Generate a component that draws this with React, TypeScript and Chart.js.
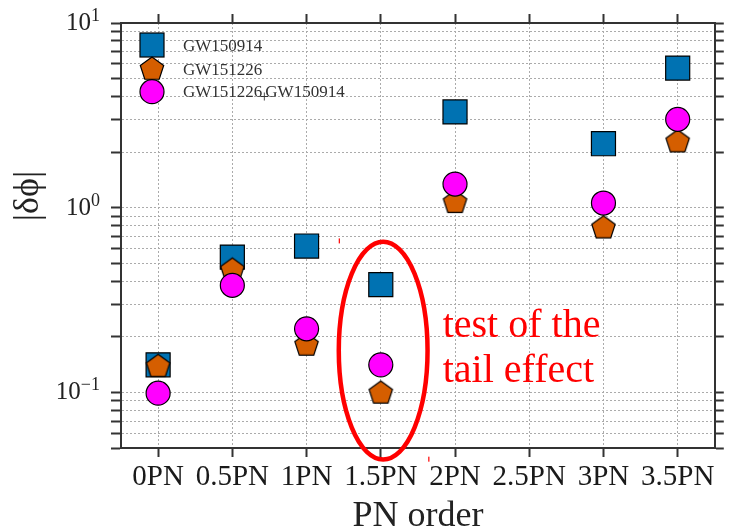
import React, { useEffect, useRef } from 'react';
import { Chart, registerables } from 'chart.js';

Chart.register(...registerables);

// ---- data ----
const categories = ['0PN', '0.5PN', '1PN', '1.5PN', '2PN', '2.5PN', '3PN', '3.5PN'];
const pnOrders = [0, 0.5, 1, 1.5, 2, 2.5, 3, 3.5];
const measuredOrders = [0, 0.5, 1, 1.5, 2, 3, 3.5];
const gw150914 = [0.141, 0.54, 0.62, 0.383, 3.3, 2.22, 5.7];
const gw151226 = [0.138, 0.459, 0.18, 0.099, 1.066, 0.776, 2.27];
const combined = [0.099, 0.38, 0.221, 0.141, 1.343, 1.06, 3.01];
const seriesNames = ['GW150914', 'GW151226', 'GW151226', 'GW150914'];
const yGridValues = [0.05, 0.06, 0.07, 0.08, 0.09, 0.1, 0.2, 0.3, 0.4, 0.5, 0.6, 0.7, 0.8, 0.9, 1, 2, 3, 4, 5, 6, 7, 8, 9, 10];
const yDecades = [0.1, 1, 10];
const yExponents = ['\u22121', '0', '1'];
const xMin = -0.25;
const xMax = 3.75;
const yMin = 0.05;
const yMax = 10;
const noteLines = ['test of the', 'tail effect'];
const noteAnchorX = 1.917;
const noteBaselines = [0.199, 0.1134];
const ellipseCenterX = 1.516;
const ellipseHalfWidth = 0.299;
const ellipseTopValue = 0.655;
const ellipseBottomValue = 0.0433;
const strayMarks = [[1.22, 0.661], [1.823, 0.0435]];

const BLUE = '#0072B2';
const ORANGE = '#D55E00';
const MAGENTA = '#FF00FF';
const AXIS = '#333333';
const GRID = '#ababab';
const SERIF = '"Liberation Serif", "Times New Roman", serif';

function pentagonPath(g: CanvasRenderingContext2D, cx: number, cy: number, R: number) {
  g.beginPath();
  for (let k = 0; k < 5; k++) {
    const a = -Math.PI / 2 + (k * 2 * Math.PI) / 5;
    const px = cx + R * Math.cos(a);
    const py = cy + R * Math.sin(a);
    if (k === 0) g.moveTo(px, py);
    else g.lineTo(px, py);
  }
  g.closePath();
}

function makePentagon(R: number): HTMLCanvasElement {
  const c = document.createElement('canvas');
  const size = Math.ceil(2 * R + 4);
  c.width = size;
  c.height = size;
  const g = c.getContext('2d')!;
  pentagonPath(g, size / 2, size / 2, R);
  g.fillStyle = ORANGE;
  g.fill();
  g.lineWidth = 1.2;
  g.strokeStyle = '#000';
  g.stroke();
  return c;
}

const overlayPlugin = {
  id: 'overlay',
  afterDraw(chart: any) {
    const { ctx, chartArea, scales } = chart;
    const xs = scales.x;
    const ys = scales.y;
    ctx.save();

    // y tick labels with superscripts
    ctx.fillStyle = '#222';
    ctx.textBaseline = 'alphabetic';
    ctx.textAlign = 'right';
    yDecades.forEach((v, i) => {
      const py = ys.getPixelForValue(v);
      const right = chartArea.left - 21;
      ctx.font = `18px ${SERIF}`;
      const ew = ctx.measureText(yExponents[i]).width;
      ctx.fillText(yExponents[i], right, py - 2);
      ctx.font = `25px ${SERIF}`;
      ctx.fillText('10', right - ew, py + 7);
    });

    // y axis title
    ctx.save();
    ctx.translate(29, 196);
    ctx.rotate(-Math.PI / 2);
    ctx.textAlign = 'center';
    ctx.textBaseline = 'middle';
    ctx.font = `36px ${SERIF}`;
    ctx.fillStyle = '#222';
    ctx.fillText('|\u03b4\u03d5|', 0, 0);
    ctx.restore();

    // x axis title
    ctx.textAlign = 'center';
    ctx.textBaseline = 'alphabetic';
    ctx.font = `36px ${SERIF}`;
    ctx.fillStyle = '#222';
    ctx.fillText('PN order', (chartArea.left + chartArea.right) / 2, 526);

    // legend
    const lx = chartArea.left + 31;
    const rows = [chartArea.top + 22, chartArea.top + 46.3, chartArea.top + 68.7];
    ctx.fillStyle = BLUE;
    ctx.strokeStyle = '#000';
    ctx.lineWidth = 1.2;
    ctx.fillRect(lx - 12, rows[0] - 12, 24, 24);
    ctx.strokeRect(lx - 12, rows[0] - 12, 24, 24);
    pentagonPath(ctx, lx, rows[1], 12.3);
    ctx.fillStyle = ORANGE;
    ctx.fill();
    ctx.stroke();
    ctx.beginPath();
    ctx.arc(lx, rows[2], 12, 0, Math.PI * 2);
    ctx.fillStyle = MAGENTA;
    ctx.fill();
    ctx.stroke();
    ctx.fillStyle = '#333';
    ctx.textAlign = 'left';
    ctx.textBaseline = 'alphabetic';
    ctx.font = `17px ${SERIF}`;
    const tx = lx + 31;
    ctx.fillText(seriesNames[0], tx, rows[0] + 5.5);
    ctx.fillText(seriesNames[1], tx, rows[1] + 5.5);
    ctx.fillText(seriesNames[2], tx, rows[2] + 5.5);
    const w1 = ctx.measureText(seriesNames[2]).width;
    ctx.font = `17px ${SERIF}`;
    ctx.textAlign = 'center';
    ctx.fillText('+', tx + w1 + 2, rows[2] + 10);
    ctx.textAlign = 'left';
    ctx.font = `17px ${SERIF}`;
    ctx.fillText(seriesNames[3], tx + w1 + 3, rows[2] + 5.5);

    // red ellipse
    const ecx = xs.getPixelForValue(ellipseCenterX);
    const erx = xs.getPixelForValue(ellipseCenterX + ellipseHalfWidth) - ecx;
    const eTop = ys.getPixelForValue(ellipseTopValue);
    const eBot = ys.getPixelForValue(ellipseBottomValue);
    ctx.beginPath();
    ctx.ellipse(ecx, (eTop + eBot) / 2, erx, (eBot - eTop) / 2, 0, 0, Math.PI * 2);
    ctx.strokeStyle = '#ff0000';
    ctx.lineWidth = 4.5;
    ctx.stroke();

    // stray red marks
    ctx.fillStyle = '#ff0000';
    strayMarks.forEach(([mx, my]) => {
      const px = xs.getPixelForValue(mx);
      const py = ys.getPixelForValue(my);
      ctx.fillRect(px - 0.5, py - 2.5, 1.2, 5);
    });

    // note text
    ctx.font = `40px ${SERIF}`;
    ctx.fillStyle = '#ff0000';
    ctx.textAlign = 'left';
    ctx.textBaseline = 'alphabetic';
    noteLines.forEach((t, i) => {
      ctx.fillText(t, xs.getPixelForValue(noteAnchorX), ys.getPixelForValue(noteBaselines[i]));
    });

    ctx.restore();
  },
};

export default function App() {
  const ref = useRef<HTMLCanvasElement | null>(null);

  useEffect(() => {
    if (!ref.current) return;
    const pentagon = makePentagon(12.3);
    const toPoints = (vals: number[]) => vals.map((v, i) => ({ x: measuredOrders[i], y: v }));
    const gridCommon = {
      color: GRID,
      lineWidth: 1,
      tickColor: AXIS,
      tickWidth: 2,
      tickBorderDash: [],
    };
    const border = { color: AXIS, width: 2, dash: [2, 2] };
    const setX = (s: any) => {
      s.ticks = pnOrders.map((v) => ({ value: v }));
    };
    const setY = (s: any) => {
      s.ticks = yGridValues.map((v) => ({ value: v }));
    };

    const chart = new Chart(ref.current, {
      type: 'scatter',
      data: {
        datasets: [
          {
            label: 'GW150914',
            data: toPoints(gw150914),
            xAxisID: 'x',
            yAxisID: 'y',
            pointStyle: 'rect',
            pointRadius: 17,
            pointHoverRadius: 17,
            backgroundColor: BLUE,
            borderColor: '#000',
            borderWidth: 1.2,
            order: 3,
          },
          {
            label: 'GW151226',
            data: toPoints(gw151226),
            xAxisID: 'x',
            yAxisID: 'y',
            pointStyle: pentagon as any,
            pointRadius: 12,
            pointHoverRadius: 12,
            backgroundColor: ORANGE,
            borderColor: '#000',
            borderWidth: 1,
            order: 2,
          },
          {
            label: 'GW151226+GW150914',
            data: toPoints(combined),
            xAxisID: 'x',
            yAxisID: 'y',
            pointStyle: 'circle',
            pointRadius: 12,
            pointHoverRadius: 12,
            backgroundColor: MAGENTA,
            borderColor: '#000',
            borderWidth: 1.2,
            order: 1,
          },
        ],
      },
      options: {
        animation: false,
        responsive: false,
        layout: { padding: 0 },
        plugins: { legend: { display: false }, tooltip: { enabled: false } },
        scales: {
          x: {
            type: 'linear',
            position: 'bottom',
            min: xMin,
            max: xMax,
            afterBuildTicks: setX,
            afterFit: (s: any) => {
              s.height = 84;
            },
            ticks: {
              callback: (v: any) => {
                const i = pnOrders.indexOf(Number(v));
                return i >= 0 ? categories[i] : '';
              },
              font: { family: SERIF, size: 29 },
              color: '#1a1a1a',
              padding: 3,
              maxRotation: 0,
              minRotation: 0,
              autoSkip: false,
            },
            grid: { ...gridCommon, tickLength: 9 },
            border,
          },
          x2: {
            type: 'linear',
            position: 'top',
            min: xMin,
            max: xMax,
            afterBuildTicks: setX,
            afterFit: (s: any) => {
              s.height = 23;
            },
            ticks: { display: false },
            grid: { ...gridCommon, tickLength: 9, drawOnChartArea: false },
            border,
          },
          y: {
            type: 'logarithmic',
            position: 'left',
            min: yMin,
            max: yMax,
            afterBuildTicks: setY,
            afterFit: (s: any) => {
              s.width = 121;
            },
            ticks: { display: false },
            grid: { ...gridCommon, tickLength: 10 },
            border,
          },
          y2: {
            type: 'logarithmic',
            position: 'right',
            min: yMin,
            max: yMax,
            afterBuildTicks: setY,
            afterFit: (s: any) => {
              s.width = 14;
            },
            ticks: { display: false },
            grid: { ...gridCommon, tickLength: 9, drawOnChartArea: false },
            border,
          },
        },
      } as any,
      plugins: [overlayPlugin],
    });
    return () => chart.destroy();
  }, []);

  return (
    <div style={{ position: 'absolute', left: 0, top: 0, width: 733, height: 532, background: '#fff' }}>
      <canvas ref={ref} width={733} height={532} style={{ display: 'block', width: 733, height: 532 }} />
    </div>
  );
}
